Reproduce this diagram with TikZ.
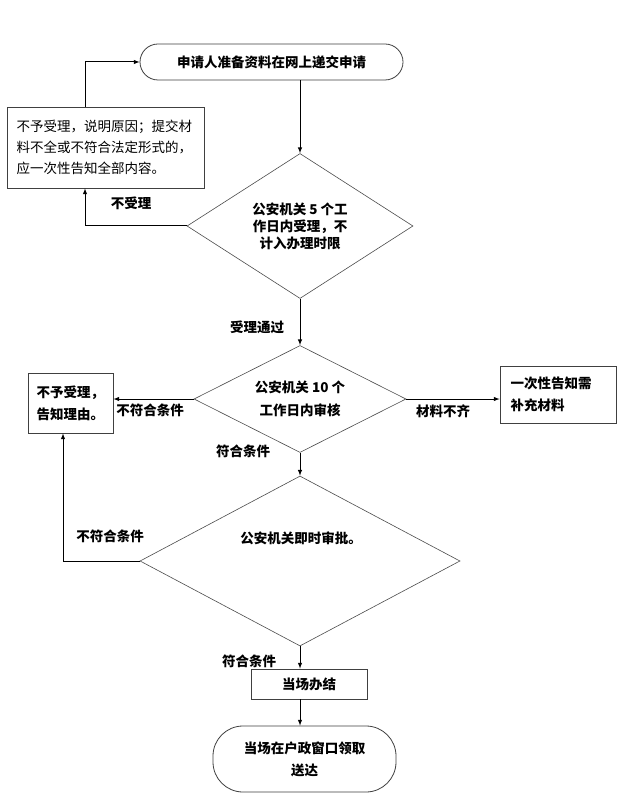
\documentclass[tikz,border=0pt]{standalone}
\usepackage{fontspec}
\setmainfont{Noto Sans CJK SC}
\usetikzlibrary{shapes.geometric}

\begin{document}
\begin{tikzpicture}[x=1pt,y=-1pt,
            box/.style={draw=black!75,line width=0.8pt,rectangle,inner sep=0pt,align=left,
                font=\fontsize{13.5}{22}\selectfont\bfseries},
            term/.style={box,align=center,rounded corners=#1},
            dia/.style={draw=black!70,line width=0.6pt,diamond,aspect=1.5,inner sep=0pt,align=center,
                font=\fontsize{13.5}{17}\selectfont\bfseries},
            lbl/.style={inner sep=0pt,font=\fontsize{13.5}{17}\selectfont\bfseries},
            arr/.style={-latex,line width=1pt}]
            \fill[white] (0,0) rectangle (619,794);

            % boxes
            \node[term=18pt,minimum width=263pt,minimum height=36pt] (start) at (271.5,62) {申请人准备资料在网上递交申请};
            \node[box,font=\fontsize{13.5}{21}\selectfont,text width=178pt,minimum width=197pt,minimum height=81pt] (refuse1) at (105.5,147.5)
                {不予受理，说明原因；提交材\\料不全或不符合法定形式的，\\应一次性告知全部内容。};
            \node[dia,minimum width=226pt,minimum height=145pt] (d1) at (300,226) {公安机关 5 个工\\作日内受理，不\\计入办理时限};
            \node[dia,font=\fontsize{13.5}{23}\selectfont\bfseries,minimum width=212pt,minimum height=107pt] (d2) at (300,399)
                {公安机关 10 个\\工作日内审核};
            \node[box,text width=68pt,minimum width=85pt,minimum height=60pt] (refuse2) at (70.5,403) {不予受理，\\告知理由。};
            \node[box,text width=95pt,minimum width=116pt,minimum height=57pt] (notify) at (558,394.5) {一次性告知需\\补充材料};
            \node[dia,minimum width=320pt,minimum height=170pt] (d3) at (300,561) {};
            \node[lbl] (d3text) at (301,538) {公安机关即时审批。};
            \node[box,align=center,minimum width=116pt,minimum height=30pt] (done) at (309,684) {当场办结};
            \node[term=30pt,minimum width=183pt,minimum height=66pt] (end) at (304.5,759) {当场在户政窗口领取\\送达};

            % arrows
            \draw[arr] ([xshift=-20.5pt]refuse1.north) |- (start.west);
            \draw[arr] (d1.north |- start.south) -- (d1.north);
            \draw[arr] (d1.west) -| ([xshift=-20.5pt]refuse1.south);
            \draw[arr] (d1.south) -- (d2.north);
            \draw[arr] (d2.west) -- (refuse2.east |- d2.west);
            \draw[arr] (d2.east) -- (notify.west |- d2.east);
            \draw[arr] (d2.south) -- (d3.north);
            \draw[arr] (d3.west) -| ([xshift=-7.5pt]refuse2.south);
            \draw[arr] (d3.south) -- (d3.south |- done.north);
            \draw[arr] (d3.south |- done.south) -- (d3.south |- end.north);

            % labels
            \node[lbl] (nolbl) at (131,203) {不受理};
            \node[lbl] (oklbl) at (257,327) {受理通过};
            \node[lbl] (failA) at (150,410) {不符合条件};
            \node[lbl] (lack) at (443,411) {材料不齐};
            \node[lbl] (passA) at (243,451) {符合条件};
            \node[lbl] (failB) at (110,536) {不符合条件};
            \node[lbl] (passB) at (249,661) {符合条件};
\end{tikzpicture}
\end{document}
